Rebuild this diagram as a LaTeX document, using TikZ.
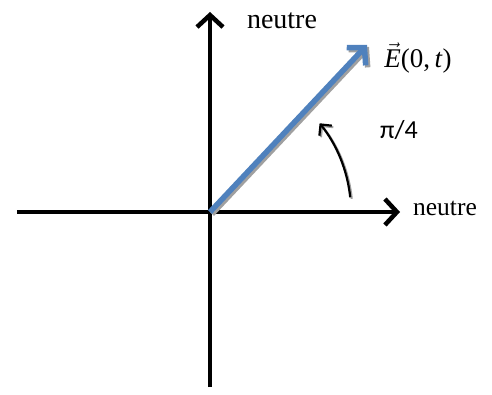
\documentclass[tikz,border=0pt]{standalone}
\usepackage{fontspec}
\setmainfont{Liberation Serif}
\newfontfamily\calib{Carlito}
\usetikzlibrary{arrows.meta}
\definecolor{vecblue}{RGB}{79,129,189}
\definecolor{shadowgray}{RGB}{160,160,160}
\begin{document}
\begin{tikzpicture}[x=1pt,y=1pt,
  axis/.style={line width=4.5pt,-{Straight Barb[length=12pt,width=26pt,line width=4.5pt]}},
  vecarrow/.style={line width=5.5pt,-{Straight Barb[length=12pt,width=26pt,line width=5.5pt]}},
  angarrow/.style={line width=2.2pt,-{Straight Barb[length=8pt,width=16pt,line width=2.2pt]}},
  lbl/.style={inner sep=0pt,anchor=base}]
\useasboundingbox (-210,-182) rectangle (282,212);
\coordinate (O) at (0,0);
\coordinate (xl) at (-193,0);
\coordinate (xr) at (190,0);
\coordinate (yb) at (0,-175);
\coordinate (yt) at (0,200);
\coordinate (vt) at (157,167);
\coordinate (vts) at (159,165);
\coordinate (Os) at (2,-2);
% axes
\draw[axis] (xl) -- (xr);
\draw[axis] (yb) -- (yt);
% vector shadow and vector
\draw[vecarrow,shadowgray] (Os) -- (vts);
\draw[vecarrow,vecblue] (O) -- (vt);
% angle arrow (arc around origin)
\draw[angarrow,shadowgray] ([shift={(1.5,-1.5)}]6:141) arc[start angle=6,end angle=39,radius=141];
\draw[angarrow] (6:141) arc[start angle=6,end angle=39,radius=141];
% labels
\node[lbl] (ny) at (72,183) {\fontsize{28}{32}\selectfont neutre};
\node[lbl] (nx) at (235,-3) {\fontsize{25.5}{30}\selectfont neutre};
\node[lbl] (E) at (208,145) {\fontsize{27}{32}\selectfont $\vec{\hbox{\itshape E\/}}$(0,\,\textit{t})};
\node[lbl] (pi) at (189,74) {\fontsize{26}{30}\selectfont\calib π/4};
\end{tikzpicture}
\end{document}
